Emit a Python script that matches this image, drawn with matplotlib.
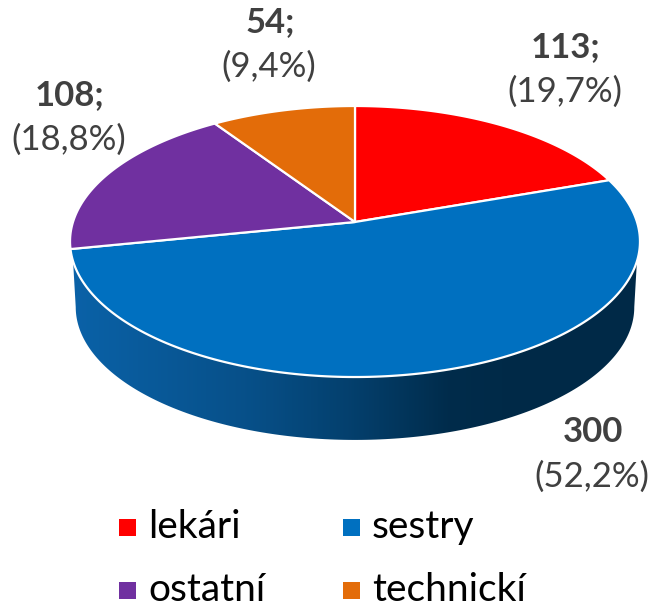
import numpy as np
import matplotlib.pyplot as plt
from matplotlib.patches import Polygon, Rectangle
from matplotlib.colors import to_rgb

# dáta
kategorie = ['lekári', 'sestry', 'ostatní', 'technickí']
pocty = [113, 300, 108, 54]
oddelovace = [';', '', ';', ';']
farby = ['#FF0000', '#0070C0', '#7030A0', '#E36C09']

plt.rcParams['font.family'] = ['Lato', 'DejaVu Sans']

fig = plt.figure(figsize=(6.53, 6.10), dpi=100)
ax = fig.add_axes([0, 0, 1, 1])
ax.set_xlim(0, 653)
ax.set_ylim(610, 0)
ax.axis('off')

# perspektívna projekcia kruhu (pixely)
cx, cy = 355, 222
sx, sy, k = 282, 132.7, 0.144
hlbka = 66
zmensenie = 0.98


def bod(a, dole=False):
    a = np.radians(a)
    u, v = np.cos(a), np.sin(a)
    w = 1 + k * v
    if dole:
        return np.c_[cx + zmensenie * sx * u / w, cy + hlbka - zmensenie * sy * v / w]
    return np.c_[cx + sx * u / w, cy - sy * v / w]


def oblúk(a0, a1, dole=False, n=200):
    return bod(np.linspace(a0, a1, n), dole)


# uhly výsekov, začiatok hore, v smere hodinových ručičiek
suma = sum(pocty)
zac = 90 - 360 * np.cumsum([0] + pocty[:-1]) / suma
kon = 90 - 360 * np.cumsum(pocty) / suma

# bočná stena - len predná časť, tieňovaná zľava doprava
predok0, predok1 = -163.5, -16.5
kraj = np.degrees(np.arcsin(k))
stop = [0.875, 0.71, 0.57, 0.39, 0.37, 0.37]
stop_x = [70, 250, 350, 450, 520, 645]
xs = np.linspace(60, 650, 1200)
fakt = np.interp(xs, stop_x, stop)
cerven = 0.04 * np.clip((fakt - 0.37) / 0.5, 0, 1)

for i in range(len(pocty)):
    a_hi, a_lo = zac[i], kon[i]
    for posun in (0, -360, 360):
        lo = max(a_lo + posun, predok0)
        hi = min(a_hi + posun, predok1)
        if hi <= lo:
            continue
        horne = oblúk(lo, hi)
        d_lo = -180 + kraj if lo == predok0 else lo
        d_hi = -kraj if hi == predok1 else hi
        dolne = oblúk(d_hi, d_lo, dole=True)
        poly = Polygon(np.vstack([horne, dolne]), closed=True,
                       facecolor='none', edgecolor='none')
        ax.add_patch(poly)
        c = np.array(to_rgb(farby[i]))
        grad = np.repeat((fakt[:, None] * c[None, :])[None], 2, axis=0)
        grad[..., 0] += cerven[None, :]
        im = ax.imshow(np.clip(grad, 0, 1), extent=[60, 650, 450, 230],
                       aspect='auto', zorder=1, interpolation='bilinear')
        im.set_clip_path(poly)

# horná plocha
for i in range(len(pocty)):
    okraj = oblúk(zac[i], kon[i])
    pts = np.vstack([[cx, cy], okraj])
    ax.add_patch(Polygon(pts, closed=True, facecolor=farby[i],
                         edgecolor='white', linewidth=1.6, zorder=2,
                         joinstyle='round'))

# popisy
pozicie = [(566, 47), (593, 432), (70, 95), (270, 22)]
for i, (x, y) in enumerate(pozicie):
    pct = f'({100 * pocty[i] / suma:.1f}%)'.replace('.', ',')
    ax.text(x, y, f'{pocty[i]}{oddelovace[i]}', ha='center', va='center',
            fontsize=25, fontweight='bold', color='#404040', zorder=3)
    ax.text(x - 1, y + 45, pct, ha='center', va='center',
            fontsize=25, color='#404040', zorder=3)

# legenda
leg_pos = [(119, 527), (343, 527), (119, 590), (343, 590)]
for i, (x, y) in enumerate(leg_pos):
    ax.add_patch(Rectangle((x, y - 8.5), 17, 17, facecolor=farby[i],
                           edgecolor='none', zorder=3))
    ax.text(x + 29, y, kategorie[i], ha='left', va='center',
            fontsize=28, color='black', zorder=3)

fig.savefig('out.png', dpi=100)
